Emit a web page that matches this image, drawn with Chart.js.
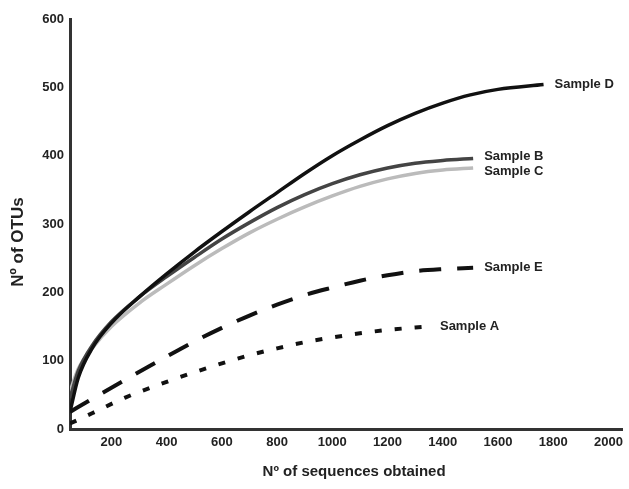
<!DOCTYPE html>
<html>
<head>
<meta charset="utf-8">
<script src="https://cdn.jsdelivr.net/npm/chart.js@4"></script>
<style>
  html, body { margin: 0; padding: 0; background: #fff; }
  #wrap { width: 629px; height: 489px; position: relative; }
</style>
</head>
<body>
<div id="wrap"><canvas id="myChart"></canvas></div>
<script>
// rarefaction curves, values
const xTicks = [200, 400, 600, 800, 1000, 1200, 1400, 1600, 1800, 2000];
const yTicks = [0, 100, 200, 300, 400, 500, 600];
const xTitle = 'Nº of sequences obtained';
const yTitle = 'Nº of OTUs';

const sampleDx = [50, 80, 130, 200, 300, 400, 500, 600, 700, 800, 900, 1000, 1100, 1200, 1300, 1400, 1500, 1600, 1765];
const sampleDy = [25, 75, 118, 155, 193, 227, 259, 289, 318, 346, 374, 400, 423, 444, 462, 477, 489, 497, 504];

const sampleBx = [50, 80, 130, 200, 300, 400, 500, 600, 700, 800, 900, 1000, 1100, 1200, 1300, 1400, 1510];
const sampleBy = [45, 85, 122, 157, 193, 223, 251, 278, 302, 324, 343, 359, 372, 382, 389, 393, 396];

const sampleCx = [50, 80, 130, 200, 300, 400, 500, 600, 700, 800, 900, 1000, 1100, 1200, 1300, 1400, 1510];
const sampleCy = [55, 88, 118, 150, 184, 212, 239, 264, 287, 307, 325, 341, 355, 366, 374, 379, 382];

const sampleEx = [50, 130, 250, 400, 500, 600, 700, 800, 900, 1000, 1100, 1200, 1300, 1400, 1510];
const sampleEy = [25, 44, 72, 106, 128, 148, 166, 182, 196, 207, 217, 225, 231, 234, 236];

const sampleAx = [50, 130, 250, 400, 500, 600, 700, 800, 900, 1000, 1100, 1200, 1350];
const sampleAy = [8, 23, 46, 69, 83, 96, 108, 118, 127, 134, 140, 145, 150];

const FONT = '"Liberation Sans", Arial, sans-serif';

function pts(xs, ys) {
    return xs.map((x, i) => ({ x: x, y: ys[i] }));
}

// curve names at line ends + axis titles
const endLabels = {
    id: 'endLabels',
    afterDatasetsDraw(chart) {
        const c = chart.ctx;
        c.save();
        c.font = 'bold 13px ' + FONT;
        c.fillStyle = '#222';
        c.textBaseline = 'middle';
        chart.data.datasets.forEach((ds, i) => {
            const els = chart.getDatasetMeta(i).data;
            const p = els[els.length - 1];
            c.fillText(ds.label, p.x + 11, p.y + (ds.labelDy || 0));
        });
        const area = chart.chartArea;
        c.textAlign = 'center';
        c.font = 'bold 15px ' + FONT;
        c.fillText(xTitle, (area.left + area.right) / 2 + 8, 472);
        c.font = 'bold 17px ' + FONT;
        c.translate(18, (area.top + area.bottom) / 2 + 18);
        c.rotate(-Math.PI / 2);
        c.fillText(yTitle, 0, 0);
        c.restore();
    }
};

const ctx = document.getElementById('myChart');

new Chart(ctx, {
    type: 'line',
    data: {
        datasets: [{
            label: 'Sample D',
            data: pts(sampleDx, sampleDy),
            borderColor: '#111',
            borderWidth: 3.5
        }, {
            label: 'Sample B',
            data: pts(sampleBx, sampleBy),
            borderColor: '#444',
            borderWidth: 3.5,
            labelDy: -2
        }, {
            label: 'Sample C',
            data: pts(sampleCx, sampleCy),
            borderColor: '#bbb',
            borderWidth: 3.5,
            labelDy: 3
        }, {
            label: 'Sample E',
            data: pts(sampleEx, sampleEy),
            borderColor: '#111',
            borderWidth: 4,
            borderDash: [22, 16]
        }, {
            label: 'Sample A',
            data: pts(sampleAx, sampleAy),
            borderColor: '#111',
            borderWidth: 4,
            borderDash: [7, 13]
        }]
    },
    options: {
        responsive: true,
        maintainAspectRatio: false,
        animation: false,
        layout: { padding: { top: 19, right: 4, left: 0, bottom: 0 } },
        elements: {
            point: { radius: 0 },
            line: { cubicInterpolationMode: 'monotone', fill: false }
        },
        plugins: {
            legend: { display: false },
            tooltip: { enabled: false }
        },
        scales: {
            x: {
                type: 'linear',
                min: 50,
                max: 2050,
                afterBuildTicks: s => { s.ticks = xTicks.map(v => ({ value: v })); },
                afterFit: s => { s.height = 60; },
                grid: { display: false, drawTicks: false },
                border: { color: '#333', width: 3 },
                ticks: {
                    color: '#222',
                    padding: 6,
                    maxRotation: 0,
                    callback: v => String(v),
                    font: { size: 13, weight: 'bold', family: FONT }
                }
            },
            y: {
                min: 0,
                max: 600,
                afterBuildTicks: s => { s.ticks = yTicks.map(v => ({ value: v })); },
                afterFit: s => { s.width = 70; },
                grid: { display: false, drawTicks: false },
                border: { color: '#333', width: 3 },
                ticks: {
                    color: '#222',
                    padding: 6,
                    callback: v => String(v),
                    font: { size: 13, weight: 'bold', family: FONT }
                }
            }
        }
    },
    plugins: [endLabels]
});
</script>
</body>
</html>
